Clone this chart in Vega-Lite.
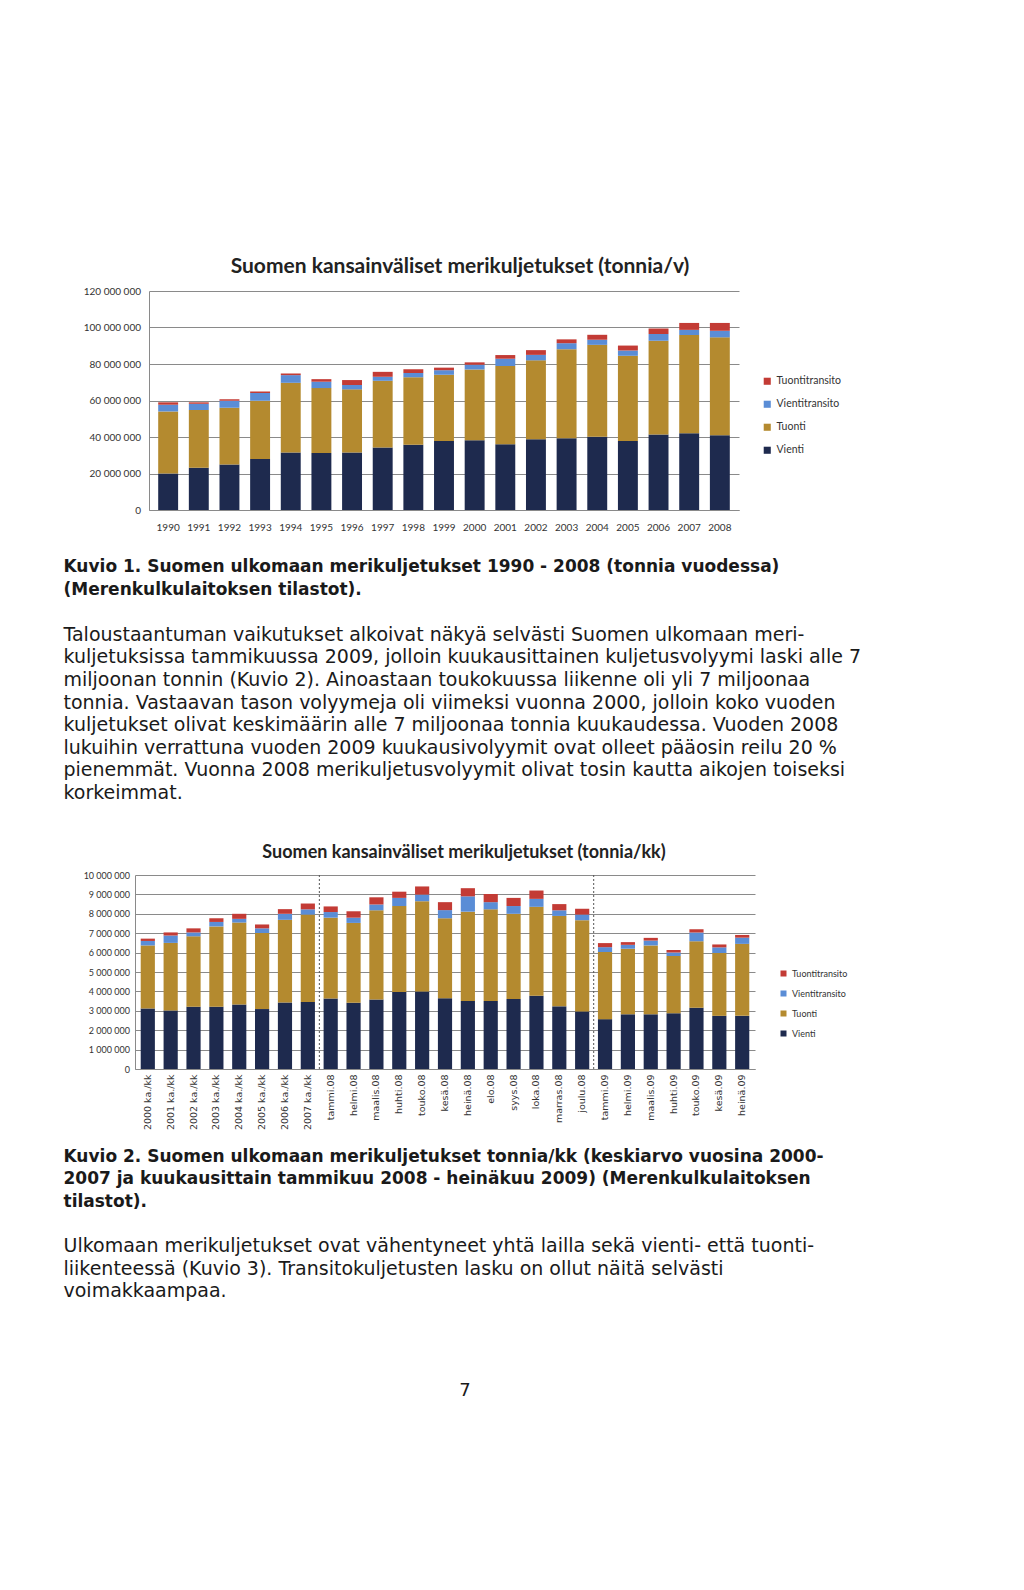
{
  "$schema": "https://vega.github.io/schema/vega-lite/v6.json",
  "background": "white",
  "padding": {"left": 63, "top": 256, "right": 0, "bottom": 0},
  "spacing": 0,
  "resolve": {"scale": {"color": "independent"}, "legend": {"color": "independent"}},
  "config": {
    "view": {"stroke": null},
    "locale": {"number": {"decimal": ",", "thousands": " ", "grouping": [3], "currency": ["", " €"]}},
    "axis": {"labelColor": "#333", "domainColor": "#8a8a8a", "gridColor": "#8a8a8a", "ticks": false, "title": null}
  },
  "datasets": {
    "lajit": [
      {"laji": "Vienti", "pinojarjestys": 1},
      {"laji": "Tuonti", "pinojarjestys": 2},
      {"laji": "Vientitransito", "pinojarjestys": 3},
      {"laji": "Tuontitransito", "pinojarjestys": 4}
    ],
    "tyhja": [{"teksti": ""}],
    "vuodet": [
      {"vuosi": "1990", "laji": "Vienti", "tonnia": 20000000}, {"vuosi": "1990", "laji": "Tuonti", "tonnia": 34000000}, {"vuosi": "1990", "laji": "Vientitransito", "tonnia": 3700000}, {"vuosi": "1990", "laji": "Tuontitransito", "tonnia": 1300000},
      {"vuosi": "1991", "laji": "Vienti", "tonnia": 23200000}, {"vuosi": "1991", "laji": "Tuonti", "tonnia": 31600000}, {"vuosi": "1991", "laji": "Vientitransito", "tonnia": 3400000}, {"vuosi": "1991", "laji": "Tuontitransito", "tonnia": 800000},
      {"vuosi": "1992", "laji": "Vienti", "tonnia": 24900000}, {"vuosi": "1992", "laji": "Tuonti", "tonnia": 31100000}, {"vuosi": "1992", "laji": "Vientitransito", "tonnia": 3800000}, {"vuosi": "1992", "laji": "Tuontitransito", "tonnia": 900000},
      {"vuosi": "1993", "laji": "Vienti", "tonnia": 27900000}, {"vuosi": "1993", "laji": "Tuonti", "tonnia": 31900000}, {"vuosi": "1993", "laji": "Vientitransito", "tonnia": 4300000}, {"vuosi": "1993", "laji": "Tuontitransito", "tonnia": 900000},
      {"vuosi": "1994", "laji": "Vienti", "tonnia": 31500000}, {"vuosi": "1994", "laji": "Tuonti", "tonnia": 38200000}, {"vuosi": "1994", "laji": "Vientitransito", "tonnia": 4200000}, {"vuosi": "1994", "laji": "Tuontitransito", "tonnia": 900000},
      {"vuosi": "1995", "laji": "Vienti", "tonnia": 31200000}, {"vuosi": "1995", "laji": "Tuonti", "tonnia": 35600000}, {"vuosi": "1995", "laji": "Vientitransito", "tonnia": 3500000}, {"vuosi": "1995", "laji": "Tuontitransito", "tonnia": 1400000},
      {"vuosi": "1996", "laji": "Vienti", "tonnia": 31500000}, {"vuosi": "1996", "laji": "Tuonti", "tonnia": 34600000}, {"vuosi": "1996", "laji": "Vientitransito", "tonnia": 2400000}, {"vuosi": "1996", "laji": "Tuontitransito", "tonnia": 2700000},
      {"vuosi": "1997", "laji": "Vienti", "tonnia": 34200000}, {"vuosi": "1997", "laji": "Tuonti", "tonnia": 36600000}, {"vuosi": "1997", "laji": "Vientitransito", "tonnia": 2200000}, {"vuosi": "1997", "laji": "Tuontitransito", "tonnia": 2700000},
      {"vuosi": "1998", "laji": "Vienti", "tonnia": 35700000}, {"vuosi": "1998", "laji": "Tuonti", "tonnia": 37100000}, {"vuosi": "1998", "laji": "Vientitransito", "tonnia": 2300000}, {"vuosi": "1998", "laji": "Tuontitransito", "tonnia": 2000000},
      {"vuosi": "1999", "laji": "Vienti", "tonnia": 37800000}, {"vuosi": "1999", "laji": "Tuonti", "tonnia": 36300000}, {"vuosi": "1999", "laji": "Vientitransito", "tonnia": 2500000}, {"vuosi": "1999", "laji": "Tuontitransito", "tonnia": 1400000},
      {"vuosi": "2000", "laji": "Vienti", "tonnia": 38200000}, {"vuosi": "2000", "laji": "Tuonti", "tonnia": 38800000}, {"vuosi": "2000", "laji": "Vientitransito", "tonnia": 2600000}, {"vuosi": "2000", "laji": "Tuontitransito", "tonnia": 1300000},
      {"vuosi": "2001", "laji": "Vienti", "tonnia": 36000000}, {"vuosi": "2001", "laji": "Tuonti", "tonnia": 42900000}, {"vuosi": "2001", "laji": "Vientitransito", "tonnia": 4000000}, {"vuosi": "2001", "laji": "Tuontitransito", "tonnia": 2000000},
      {"vuosi": "2002", "laji": "Vienti", "tonnia": 38700000}, {"vuosi": "2002", "laji": "Tuonti", "tonnia": 43300000}, {"vuosi": "2002", "laji": "Vientitransito", "tonnia": 3000000}, {"vuosi": "2002", "laji": "Tuontitransito", "tonnia": 2600000},
      {"vuosi": "2003", "laji": "Vienti", "tonnia": 39300000}, {"vuosi": "2003", "laji": "Tuonti", "tonnia": 48800000}, {"vuosi": "2003", "laji": "Vientitransito", "tonnia": 3300000}, {"vuosi": "2003", "laji": "Tuontitransito", "tonnia": 2100000},
      {"vuosi": "2004", "laji": "Vienti", "tonnia": 40200000}, {"vuosi": "2004", "laji": "Tuonti", "tonnia": 50300000}, {"vuosi": "2004", "laji": "Vientitransito", "tonnia": 2800000}, {"vuosi": "2004", "laji": "Tuontitransito", "tonnia": 2700000},
      {"vuosi": "2005", "laji": "Vienti", "tonnia": 37800000}, {"vuosi": "2005", "laji": "Tuonti", "tonnia": 46700000}, {"vuosi": "2005", "laji": "Vientitransito", "tonnia": 2900000}, {"vuosi": "2005", "laji": "Tuontitransito", "tonnia": 2700000},
      {"vuosi": "2006", "laji": "Vienti", "tonnia": 41400000}, {"vuosi": "2006", "laji": "Tuonti", "tonnia": 51400000}, {"vuosi": "2006", "laji": "Vientitransito", "tonnia": 3600000}, {"vuosi": "2006", "laji": "Tuontitransito", "tonnia": 3100000},
      {"vuosi": "2007", "laji": "Vienti", "tonnia": 42000000}, {"vuosi": "2007", "laji": "Tuonti", "tonnia": 53900000}, {"vuosi": "2007", "laji": "Vientitransito", "tonnia": 2800000}, {"vuosi": "2007", "laji": "Tuontitransito", "tonnia": 3800000},
      {"vuosi": "2008", "laji": "Vienti", "tonnia": 40900000}, {"vuosi": "2008", "laji": "Tuonti", "tonnia": 53700000}, {"vuosi": "2008", "laji": "Vientitransito", "tonnia": 3600000}, {"vuosi": "2008", "laji": "Tuontitransito", "tonnia": 4300000}
    ],
    "kuukaudet": [
      {"kk": "2000 ka./kk", "laji": "Vienti", "tonnia": 3120000}, {"kk": "2000 ka./kk", "laji": "Tuonti", "tonnia": 3250000}, {"kk": "2000 ka./kk", "laji": "Vientitransito", "tonnia": 230000}, {"kk": "2000 ka./kk", "laji": "Tuontitransito", "tonnia": 120000},
      {"kk": "2001 ka./kk", "laji": "Vienti", "tonnia": 3020000}, {"kk": "2001 ka./kk", "laji": "Tuonti", "tonnia": 3480000}, {"kk": "2001 ka./kk", "laji": "Vientitransito", "tonnia": 380000}, {"kk": "2001 ka./kk", "laji": "Tuontitransito", "tonnia": 160000},
      {"kk": "2002 ka./kk", "laji": "Vienti", "tonnia": 3210000}, {"kk": "2002 ka./kk", "laji": "Tuonti", "tonnia": 3630000}, {"kk": "2002 ka./kk", "laji": "Vientitransito", "tonnia": 200000}, {"kk": "2002 ka./kk", "laji": "Tuontitransito", "tonnia": 210000},
      {"kk": "2003 ka./kk", "laji": "Vienti", "tonnia": 3210000}, {"kk": "2003 ka./kk", "laji": "Tuonti", "tonnia": 4140000}, {"kk": "2003 ka./kk", "laji": "Vientitransito", "tonnia": 230000}, {"kk": "2003 ka./kk", "laji": "Tuontitransito", "tonnia": 190000},
      {"kk": "2004 ka./kk", "laji": "Vienti", "tonnia": 3330000}, {"kk": "2004 ka./kk", "laji": "Tuonti", "tonnia": 4220000}, {"kk": "2004 ka./kk", "laji": "Vientitransito", "tonnia": 190000}, {"kk": "2004 ka./kk", "laji": "Tuontitransito", "tonnia": 260000},
      {"kk": "2005 ka./kk", "laji": "Vienti", "tonnia": 3090000}, {"kk": "2005 ka./kk", "laji": "Tuonti", "tonnia": 3920000}, {"kk": "2005 ka./kk", "laji": "Vientitransito", "tonnia": 240000}, {"kk": "2005 ka./kk", "laji": "Tuontitransito", "tonnia": 200000},
      {"kk": "2006 ka./kk", "laji": "Vienti", "tonnia": 3430000}, {"kk": "2006 ka./kk", "laji": "Tuonti", "tonnia": 4260000}, {"kk": "2006 ka./kk", "laji": "Vientitransito", "tonnia": 310000}, {"kk": "2006 ka./kk", "laji": "Tuontitransito", "tonnia": 240000},
      {"kk": "2007 ka./kk", "laji": "Vienti", "tonnia": 3460000}, {"kk": "2007 ka./kk", "laji": "Tuonti", "tonnia": 4500000}, {"kk": "2007 ka./kk", "laji": "Vientitransito", "tonnia": 270000}, {"kk": "2007 ka./kk", "laji": "Tuontitransito", "tonnia": 300000},
      {"kk": "tammi.08", "laji": "Vienti", "tonnia": 3630000}, {"kk": "tammi.08", "laji": "Tuonti", "tonnia": 4170000}, {"kk": "tammi.08", "laji": "Vientitransito", "tonnia": 290000}, {"kk": "tammi.08", "laji": "Tuontitransito", "tonnia": 290000},
      {"kk": "helmi.08", "laji": "Vienti", "tonnia": 3410000}, {"kk": "helmi.08", "laji": "Tuonti", "tonnia": 4120000}, {"kk": "helmi.08", "laji": "Vientitransito", "tonnia": 270000}, {"kk": "helmi.08", "laji": "Tuontitransito", "tonnia": 330000},
      {"kk": "maalis.08", "laji": "Vienti", "tonnia": 3580000}, {"kk": "maalis.08", "laji": "Tuonti", "tonnia": 4600000}, {"kk": "maalis.08", "laji": "Vientitransito", "tonnia": 300000}, {"kk": "maalis.08", "laji": "Tuontitransito", "tonnia": 370000},
      {"kk": "huhti.08", "laji": "Vienti", "tonnia": 3970000}, {"kk": "huhti.08", "laji": "Tuonti", "tonnia": 4430000}, {"kk": "huhti.08", "laji": "Vientitransito", "tonnia": 420000}, {"kk": "huhti.08", "laji": "Tuontitransito", "tonnia": 320000},
      {"kk": "touko.08", "laji": "Vienti", "tonnia": 4000000}, {"kk": "touko.08", "laji": "Tuonti", "tonnia": 4650000}, {"kk": "touko.08", "laji": "Vientitransito", "tonnia": 340000}, {"kk": "touko.08", "laji": "Tuontitransito", "tonnia": 420000},
      {"kk": "kesä.08", "laji": "Vienti", "tonnia": 3650000}, {"kk": "kesä.08", "laji": "Tuonti", "tonnia": 4120000}, {"kk": "kesä.08", "laji": "Vientitransito", "tonnia": 420000}, {"kk": "kesä.08", "laji": "Tuontitransito", "tonnia": 410000},
      {"kk": "heinä.08", "laji": "Vienti", "tonnia": 3500000}, {"kk": "heinä.08", "laji": "Tuonti", "tonnia": 4610000}, {"kk": "heinä.08", "laji": "Vientitransito", "tonnia": 790000}, {"kk": "heinä.08", "laji": "Tuontitransito", "tonnia": 420000},
      {"kk": "elo.08", "laji": "Vienti", "tonnia": 3500000}, {"kk": "elo.08", "laji": "Tuonti", "tonnia": 4730000}, {"kk": "elo.08", "laji": "Vientitransito", "tonnia": 370000}, {"kk": "elo.08", "laji": "Tuontitransito", "tonnia": 420000},
      {"kk": "syys.08", "laji": "Vienti", "tonnia": 3610000}, {"kk": "syys.08", "laji": "Tuonti", "tonnia": 4390000}, {"kk": "syys.08", "laji": "Vientitransito", "tonnia": 400000}, {"kk": "syys.08", "laji": "Tuontitransito", "tonnia": 420000},
      {"kk": "loka.08", "laji": "Vienti", "tonnia": 3780000}, {"kk": "loka.08", "laji": "Tuonti", "tonnia": 4580000}, {"kk": "loka.08", "laji": "Vientitransito", "tonnia": 410000}, {"kk": "loka.08", "laji": "Tuontitransito", "tonnia": 430000},
      {"kk": "marras.08", "laji": "Vienti", "tonnia": 3230000}, {"kk": "marras.08", "laji": "Tuonti", "tonnia": 4660000}, {"kk": "marras.08", "laji": "Vientitransito", "tonnia": 290000}, {"kk": "marras.08", "laji": "Tuontitransito", "tonnia": 320000},
      {"kk": "joulu.08", "laji": "Vienti", "tonnia": 2970000}, {"kk": "joulu.08", "laji": "Tuonti", "tonnia": 4700000}, {"kk": "joulu.08", "laji": "Vientitransito", "tonnia": 290000}, {"kk": "joulu.08", "laji": "Tuontitransito", "tonnia": 300000},
      {"kk": "tammi.09", "laji": "Vienti", "tonnia": 2570000}, {"kk": "tammi.09", "laji": "Tuonti", "tonnia": 3460000}, {"kk": "tammi.09", "laji": "Vientitransito", "tonnia": 250000}, {"kk": "tammi.09", "laji": "Tuontitransito", "tonnia": 210000},
      {"kk": "helmi.09", "laji": "Vienti", "tonnia": 2820000}, {"kk": "helmi.09", "laji": "Tuonti", "tonnia": 3380000}, {"kk": "helmi.09", "laji": "Vientitransito", "tonnia": 200000}, {"kk": "helmi.09", "laji": "Tuontitransito", "tonnia": 140000},
      {"kk": "maalis.09", "laji": "Vienti", "tonnia": 2820000}, {"kk": "maalis.09", "laji": "Tuonti", "tonnia": 3550000}, {"kk": "maalis.09", "laji": "Vientitransito", "tonnia": 250000}, {"kk": "maalis.09", "laji": "Tuontitransito", "tonnia": 140000},
      {"kk": "huhti.09", "laji": "Vienti", "tonnia": 2870000}, {"kk": "huhti.09", "laji": "Tuonti", "tonnia": 2960000}, {"kk": "huhti.09", "laji": "Vientitransito", "tonnia": 170000}, {"kk": "huhti.09", "laji": "Tuontitransito", "tonnia": 130000},
      {"kk": "touko.09", "laji": "Vienti", "tonnia": 3160000}, {"kk": "touko.09", "laji": "Tuonti", "tonnia": 3430000}, {"kk": "touko.09", "laji": "Vientitransito", "tonnia": 450000}, {"kk": "touko.09", "laji": "Tuontitransito", "tonnia": 170000},
      {"kk": "kesä.09", "laji": "Vienti", "tonnia": 2740000}, {"kk": "kesä.09", "laji": "Tuonti", "tonnia": 3240000}, {"kk": "kesä.09", "laji": "Vientitransito", "tonnia": 290000}, {"kk": "kesä.09", "laji": "Tuontitransito", "tonnia": 150000},
      {"kk": "heinä.09", "laji": "Vienti", "tonnia": 2740000}, {"kk": "heinä.09", "laji": "Tuonti", "tonnia": 3710000}, {"kk": "heinä.09", "laji": "Vientitransito", "tonnia": 320000}, {"kk": "heinä.09", "laji": "Tuontitransito", "tonnia": 140000}
    ],
    "rajat": [{"kk": "tammi.08"}, {"kk": "tammi.09"}],
    "kuvateksti1": [
      {"rivi": 1, "teksti": "Kuvio   1. Suomen ulkomaan merikuljetukset 1990 - 2008 (tonnia vuodessa)"},
      {"rivi": 2, "teksti": "(Merenkulkulaitoksen tilastot)."}
    ],
    "kappale1": [
      {"rivi": 4, "teksti": "Taloustaantuman vaikutukset alkoivat näkyä selvästi Suomen ulkomaan meri-"},
      {"rivi": 5, "teksti": "kuljetuksissa tammikuussa 2009, jolloin kuukausittainen kuljetusvolyymi laski alle 7"},
      {"rivi": 6, "teksti": "miljoonan tonnin (Kuvio 2). Ainoastaan toukokuussa liikenne oli yli 7 miljoonaa"},
      {"rivi": 7, "teksti": "tonnia. Vastaavan tason volyymeja oli viimeksi vuonna 2000, jolloin koko vuoden"},
      {"rivi": 8, "teksti": "kuljetukset olivat keskimäärin alle 7 miljoonaa tonnia kuukaudessa. Vuoden 2008"},
      {"rivi": 9, "teksti": "lukuihin verrattuna vuoden 2009 kuukausivolyymit ovat olleet pääosin reilu 20 %"},
      {"rivi": 10, "teksti": "pienemmät. Vuonna 2008 merikuljetusvolyymit olivat tosin kautta aikojen toiseksi"},
      {"rivi": 11, "teksti": "korkeimmat."}
    ],
    "kuvateksti2": [
      {"rivi": 1, "teksti": "Kuvio  2. Suomen ulkomaan merikuljetukset tonnia/kk (keskiarvo vuosina 2000-"},
      {"rivi": 2, "teksti": "2007 ja kuukausittain tammikuu 2008 - heinäkuu 2009) (Merenkulkulaitoksen"},
      {"rivi": 3, "teksti": "tilastot)."}
    ],
    "kappale2": [
      {"rivi": 5, "teksti": "Ulkomaan merikuljetukset ovat vähentyneet yhtä lailla sekä vienti- että tuonti-"},
      {"rivi": 6, "teksti": "liikenteessä (Kuvio   3). Transitokuljetusten lasku on ollut näitä selvästi"},
      {"rivi": 7, "teksti": "voimakkaampaa."}
    ],
    "sivu": [{"numero": "7"}]
  },
  "vconcat": [
    {
      "spacing": 0,
      "hconcat": [
        {
          "width": 0,
          "height": 0,
          "data": {"name": "tyhja"},
          "mark": {"type": "text"},
          "encoding": {"text": {"field": "teksti"}}
        },
        {
          "width": 590,
          "height": 219,
          "title": {"text": "Suomen kansainväliset merikuljetukset (tonnia/v)", "font": "Lato", "fontSize": 21, "fontWeight": "bold", "color": "#222", "anchor": "middle", "frame": "group", "dx": 16, "offset": 9},
          "data": {"name": "vuodet"},
          "transform": [{"lookup": "laji", "from": {"data": {"name": "lajit"}, "key": "laji", "fields": ["pinojarjestys"]}}],
          "mark": {"type": "bar"},
          "encoding": {
            "x": {"field": "vuosi", "type": "ordinal", "scale": {"paddingInner": 0.35, "paddingOuter": 0.3},
                  "axis": {"labelAngle": 0, "labelFont": "Lato", "labelFontSize": 10, "labelPadding": 12}},
            "y": {"field": "tonnia", "type": "quantitative", "scale": {"domain": [0, 120000000]},
                  "axis": {"values": [0, 20000000, 40000000, 60000000, 80000000, 100000000, 120000000], "format": ",d", "labelFont": "Lato", "labelFontSize": 10, "labelPadding": 8.5, "minExtent": 66, "maxExtent": 66}},
            "color": {"field": "laji", "type": "nominal", "sort": ["Tuontitransito", "Vientitransito", "Tuonti", "Vienti"],
                      "scale": {"range": ["#c33b35", "#5a8dd6", "#b48a2f", "#1e2a4e"]},
                      "legend": {"title": null, "orient": "none", "legendX": 699, "legendY": 85, "symbolType": "square", "symbolSize": 50, "symbolStrokeWidth": 0, "labelFont": "Lato", "labelFontSize": 10.5, "labelColor": "#333", "rowPadding": 12}},
            "order": {"field": "pinojarjestys", "type": "quantitative", "sort": "ascending"}
          }
        }
      ]
    },
    {
      "width": 1,
      "height": 312,
      "layer": [
        {
          "data": {"name": "kuvateksti1"},
          "mark": {"type": "text", "align": "left", "baseline": "middle", "font": "DejaVu Sans", "fontSize": 17, "fontWeight": "bold", "color": "#1a1a1a"},
          "encoding": {
            "y": {"field": "rivi", "type": "quantitative", "scale": {"domain": [-0.55, 13.26], "reverse": true, "nice": false, "zero": false}, "axis": null},
            "text": {"field": "teksti"}
          }
        },
        {
          "data": {"name": "kappale1"},
          "mark": {"type": "text", "align": "left", "baseline": "middle", "font": "DejaVu Sans", "fontSize": 19, "color": "#1a1a1a"},
          "encoding": {
            "y": {"field": "rivi", "type": "quantitative", "axis": null},
            "text": {"field": "teksti"}
          }
        }
      ]
    },
    {
      "spacing": 0,
      "hconcat": [
        {
          "width": 0,
          "height": 0,
          "data": {"name": "tyhja"},
          "mark": {"type": "text"},
          "encoding": {"text": {"field": "teksti"}}
        },
        {
          "width": 620,
          "height": 194,
          "title": {"text": "Suomen kansainväliset merikuljetukset (tonnia/kk)", "font": "Lato", "fontSize": 18, "fontWeight": "bold", "color": "#222", "anchor": "middle", "frame": "group", "dx": 19, "offset": 9},
          "layer": [
            {
              "data": {"name": "kuukaudet"},
              "transform": [{"lookup": "laji", "from": {"data": {"name": "lajit"}, "key": "laji", "fields": ["pinojarjestys"]}}],
              "mark": {"type": "bar"},
              "encoding": {
                "x": {"field": "kk", "type": "ordinal",
                      "scale": {"domain": ["2000 ka./kk", "2001 ka./kk", "2002 ka./kk", "2003 ka./kk", "2004 ka./kk", "2005 ka./kk", "2006 ka./kk", "2007 ka./kk", "tammi.08", "helmi.08", "maalis.08", "huhti.08", "touko.08", "kesä.08", "heinä.08", "elo.08", "syys.08", "loka.08", "marras.08", "joulu.08", "tammi.09", "helmi.09", "maalis.09", "huhti.09", "touko.09", "kesä.09", "heinä.09"], "paddingInner": 0.38, "paddingOuter": 0.25},
                      "axis": {"labelAngle": -90, "labelFont": "DejaVu Sans", "labelFontSize": 9.5, "labelPadding": 5}},
                "y": {"field": "tonnia", "type": "quantitative", "scale": {"domain": [0, 10000000]},
                      "axis": {"values": [0, 1000000, 2000000, 3000000, 4000000, 5000000, 6000000, 7000000, 8000000, 9000000, 10000000], "format": ",d", "labelFont": "Lato", "labelFontSize": 9, "labelPadding": 5.5, "minExtent": 51, "maxExtent": 51}},
                "color": {"field": "laji", "type": "nominal", "sort": ["Tuontitransito", "Vientitransito", "Tuonti", "Vienti"],
                          "scale": {"range": ["#c33b35", "#5a8dd6", "#b48a2f", "#1e2a4e"]},
                          "legend": {"title": null, "orient": "none", "legendX": 716, "legendY": 94, "symbolType": "square", "symbolSize": 36, "symbolStrokeWidth": 0, "labelFont": "Lato", "labelFontSize": 9, "labelColor": "#333", "rowPadding": 10}},
                "order": {"field": "pinojarjestys", "type": "quantitative", "sort": "ascending"}
              }
            },
            {
              "data": {"name": "rajat"},
              "mark": {"type": "rule", "color": "#555", "strokeWidth": 1, "strokeDash": [2, 2]},
              "encoding": {
                "x": {"field": "kk", "type": "ordinal", "bandPosition": -0.3}
              }
            }
          ]
        }
      ]
    },
    {
      "width": 1,
      "height": 186,
      "layer": [
        {
          "data": {"name": "kuvateksti2"},
          "mark": {"type": "text", "align": "left", "baseline": "middle", "font": "DejaVu Sans", "fontSize": 17, "fontWeight": "bold", "color": "#1a1a1a"},
          "encoding": {
            "y": {"field": "rivi", "type": "quantitative", "scale": {"domain": [-0.2, 8.12], "reverse": true, "nice": false, "zero": false}, "axis": null},
            "text": {"field": "teksti"}
          }
        },
        {
          "data": {"name": "kappale2"},
          "mark": {"type": "text", "align": "left", "baseline": "middle", "font": "DejaVu Sans", "fontSize": 19, "color": "#1a1a1a"},
          "encoding": {
            "y": {"field": "rivi", "type": "quantitative", "axis": null},
            "text": {"field": "teksti"}
          }
        }
      ]
    },
    {
      "width": 804,
      "height": 150,
      "data": {"name": "sivu"},
      "mark": {"type": "text", "align": "center", "baseline": "middle", "font": "DejaVu Sans", "fontSize": 18, "color": "#1a1a1a"},
      "encoding": {"text": {"field": "numero"}}
    }
  ]
}
